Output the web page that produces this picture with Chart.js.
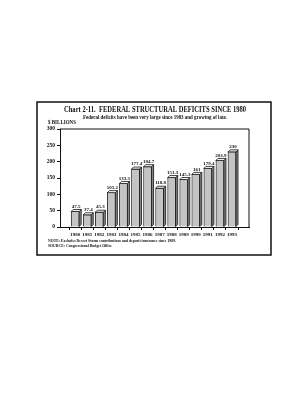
<!DOCTYPE html>
<html>
<head>
<meta charset="utf-8">
<script src="https://cdn.jsdelivr.net/npm/chart.js@4"></script>
<style>
  html, body { margin: 0; padding: 0; background: #fff; }
  #chart { display: block; }
</style>
</head>
<body>
<canvas id="chart" width="303" height="400"></canvas>
<script>
// values ($ billions)
const years = [1980, 1981, 1982, 1983, 1984, 1985, 1986, 1987, 1988, 1989, 1990, 1991, 1992, 1993];
const deficits = [47.5, 37.4, 45.3, 105.2, 133.3, 177.4, 184.7, 118.8, 151.3, 145.3, 161, 179.4, 203.9, 230];
const valueLabels = ['47.5', '37.4', '45.3', '105.2', '133.3', '177.4', '184.7', '118.8', '151.3', '145.3', '161', '179.4', '203.9', '230'];
const yTicks = [0, 50, 100, 150, 200, 250, 300];

const titleText = 'Chart 2-11.  FEDERAL STRUCTURAL DEFICITS SINCE 1980';
const subtitleText = 'Federal deficits have been very large since 1983 and growing of late.';
const unitText = '$ BILLIONS';
const noteText = 'NOTE: Excludes Desert Storm contributions and deposit insurance since 1989.';
const sourceText = 'SOURCE: Congressional Budget Office';

const SERIF = "'Liberation Serif', 'DejaVu Serif', serif";
const DEPTH = 2;

// frame, titles, notes, plot box and 3D bar caps
const decorations = {
  id: 'decorations',
  afterDatasetsDraw(chart) {
    const ctx = chart.ctx;
    const area = chart.chartArea;
    ctx.save();

    // 3D faces for each bar
    const meta = chart.getDatasetMeta(0);
    meta.data.forEach((bar, i) => {
      const half = bar.width / 2;
      const l = bar.x - half, r = bar.x + half, top = bar.y, base = bar.base;
      ctx.lineWidth = 0.8;
      ctx.strokeStyle = '#111';
      // side
      ctx.beginPath();
      ctx.moveTo(r, top);
      ctx.lineTo(r + DEPTH, top - DEPTH);
      ctx.lineTo(r + DEPTH, base - DEPTH);
      ctx.lineTo(r, base);
      ctx.closePath();
      ctx.fillStyle = '#8a8a8a';
      ctx.fill();
      ctx.stroke();
      // top
      ctx.beginPath();
      ctx.moveTo(l, top);
      ctx.lineTo(l + DEPTH, top - DEPTH);
      ctx.lineTo(r + DEPTH, top - DEPTH);
      ctx.lineTo(r, top);
      ctx.closePath();
      ctx.fillStyle = '#fff';
      ctx.fill();
      ctx.stroke();
      // value label
      ctx.fillStyle = '#111';
      ctx.font = 'bold 5px ' + SERIF;
      ctx.textAlign = 'center';
      ctx.textBaseline = 'bottom';
      ctx.fillText(valueLabels[i], bar.x + 1, top - DEPTH - 0.5);
    });

    // plot box top and right
    ctx.strokeStyle = '#111';
    ctx.lineWidth = 1;
    ctx.beginPath();
    ctx.moveTo(area.left, area.top);
    ctx.lineTo(area.right, area.top);
    ctx.lineTo(area.right, area.bottom);
    ctx.stroke();

    // outer frame
    ctx.lineWidth = 1.5;
    ctx.strokeRect(37, 102, 234, 153);

    // texts
    ctx.fillStyle = '#111';
    ctx.textBaseline = 'middle';
    ctx.textAlign = 'center';
    ctx.font = 'bold 9px ' + SERIF;
    ctx.fillText(titleText, 155, 110, 182);
    ctx.font = 'bold 6px ' + SERIF;
    ctx.fillText(subtitleText, 155, 117, 144);

    ctx.textAlign = 'left';
    ctx.font = 'bold 5.5px ' + SERIF;
    ctx.fillText(unitText, 48, 122.5, 28);
    ctx.font = 'bold 5px ' + SERIF;
    ctx.fillText(noteText, 48, 240.5, 128);
    ctx.fillText(sourceText, 48, 246, 64);
    ctx.restore();
  }
};

new Chart(document.getElementById('chart'), {
  type: 'bar',
  data: {
    datasets: [{
      data: years.map((y, i) => ({ x: y, y: deficits[i] })),
      backgroundColor: '#c4c4c4',
      borderColor: '#111',
      borderWidth: 0.8,
      barThickness: 8
    }]
  },
  options: {
    responsive: false,
    animation: false,
    layout: { padding: { top: 129, left: 35, right: 54, bottom: 145 } },
    plugins: {
      legend: { display: false },
      tooltip: { enabled: false }
    },
    scales: {
      x: {
        type: 'linear',
        min: 1979.3,
        max: 1993.85,
        afterFit(scale) { scale.height = 28; },
        afterBuildTicks(scale) { scale.ticks = years.map(v => ({ value: v })); },
        grid: { display: true, drawOnChartArea: false, drawTicks: true, tickLength: 3, color: '#111' },
        border: { display: true, color: '#111', width: 1 },
        ticks: {
          autoSkip: false,
          maxRotation: 0,
          padding: 2,
          color: '#111',
          font: { family: SERIF, size: 5, weight: 'bold' },
          callback: v => String(v)
        }
      },
      y: {
        min: 0,
        max: 300,
        afterFit(scale) { scale.width = 25; },
        afterBuildTicks(scale) { scale.ticks = yTicks.map(v => ({ value: v })); },
        grid: { display: true, drawOnChartArea: false, drawTicks: true, tickLength: 3, color: '#111' },
        border: { display: true, color: '#111', width: 1 },
        ticks: {
          padding: 2,
          color: '#111',
          font: { family: SERIF, size: 5.5, weight: 'bold' }
        }
      }
    }
  },
  plugins: [decorations]
});
</script>
</body>
</html>
